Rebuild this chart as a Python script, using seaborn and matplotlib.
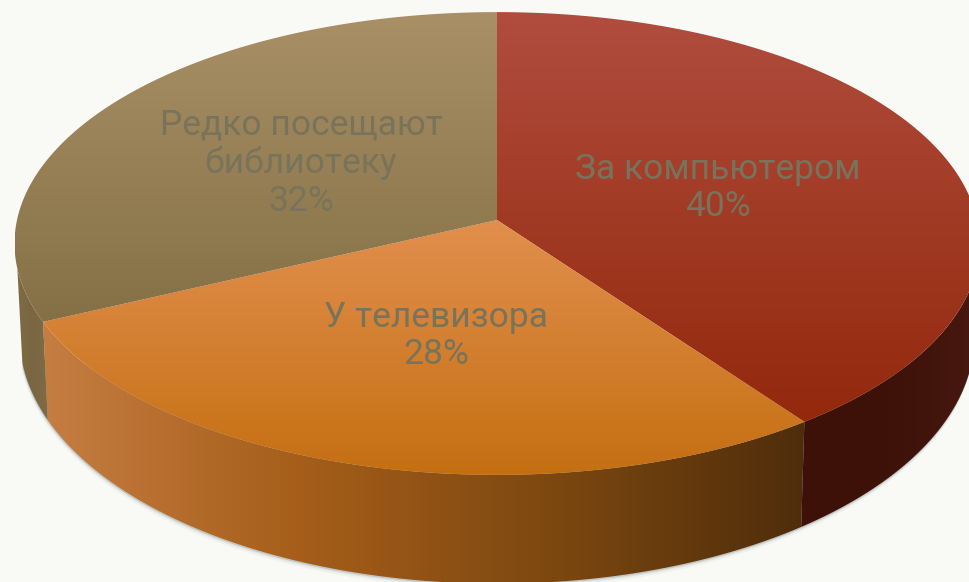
import numpy as np
import matplotlib
matplotlib.use("Agg")
from matplotlib import pyplot as plt
from matplotlib.patches import Polygon
import seaborn as sns

categories = ["За компьютером", "У телевизора", "Редко посещают\nбиблиотеку"]
shares = [40, 28, 32]

top_colors = [("#b04d3e", "#93280c"), ("#e28f4e", "#c56f12"), ("#a99066", "#857045")]
side_colors = [["#3d1108", "#3d1208", "#471810"],
               ["#c67d42", "#a65e1a", "#7d4810", "#4f2d0b"],
               ["#7f6b45", "#7a6640", "#7f6b45"]]
label_pos = [(718, 188), (436, 336), (301, 163)]
text_color = "#78735a"

W, H = 969, 582
CX = 497
R_TOP, R_LOW = 480, 475
Y_TOP, S_TOP = 220, 229
Y_LOW, S_LOW = 311, 245
K = 0.1015


def project(theta, y0, s, r):
    # theta is clockwise from 12 o'clock, simple perspective on the disc
    u = np.sin(theta)
    v = -np.cos(theta)
    w = 1 - K * v
    return CX + r * u / w, y0 + s * v / w


def gradient_fill(ax, verts, colors, horizontal, zorder):
    poly = Polygon(verts, fc="none", ec="none")
    ax.add_patch(poly)
    grad = np.array(sns.blend_palette(colors, 256))[:, :3]
    grad = grad[None, :, :] if horizontal else grad[:, None, :]
    box = (verts[:, 0].min(), verts[:, 0].max(), verts[:, 1].max(), verts[:, 1].min())
    im = ax.imshow(grad, extent=box, aspect="auto", zorder=zorder, interpolation="bilinear")
    im.set_clip_path(poly)


sns.set_theme(style="white")
plt.rcParams["font.family"] = ["Roboto", "DejaVu Sans"]

fig = plt.figure(figsize=(W / 100, H / 100), dpi=100, facecolor="#f9faf6")
ax = fig.add_axes([0, 0, 1, 1])
ax.axis("off")

edges = np.cumsum([0] + shares) / sum(shares) * 2 * np.pi

# rim only runs between the two silhouette angles, the rest is hidden by the top
vis_lo, vis_hi = np.radians(102), np.radians(258)

# soft shadow under the lower rim
t = np.linspace(vis_lo, vis_hi, 300)
for off, a in [(5, 0.05), (3, 0.1), (1.5, 0.22)]:
    sx, sy = project(t, Y_LOW, S_LOW, R_LOW)
    ax.add_patch(Polygon(np.c_[sx - off * 0.2, sy + off], fc="#555f5f", ec="none", alpha=a, zorder=1))

for i in range(len(shares)):
    th = np.linspace(max(edges[i], vis_lo), min(edges[i + 1], vis_hi), 200)
    x0, y0 = project(th, Y_TOP, S_TOP, R_TOP)
    x1, y1 = project(th, Y_LOW, S_LOW, R_LOW)
    verts = np.r_[np.c_[x0, y0], np.c_[x1, y1][::-1]]
    gradient_fill(ax, verts, side_colors[i], True, 2)

# top faces with a vertical gradient
for i in range(len(shares)):
    th = np.linspace(edges[i], edges[i + 1], 200)
    x0, y0 = project(th, Y_TOP, S_TOP, R_TOP)
    verts = np.r_[[[CX, Y_TOP]], np.c_[x0, y0]]
    gradient_fill(ax, verts, top_colors[i], False, 3)

ax.set_xlim(0, W)
ax.set_ylim(H, 0)

for name, share, (px, py) in zip(categories, shares, label_pos):
    ax.text(px, py, "{}\n{}%".format(name, share), ha="center", va="center", color=text_color,
            fontsize=25.5, linespacing=1.17, zorder=5)

fig.savefig("out.png", dpi=100, facecolor=fig.get_facecolor())
